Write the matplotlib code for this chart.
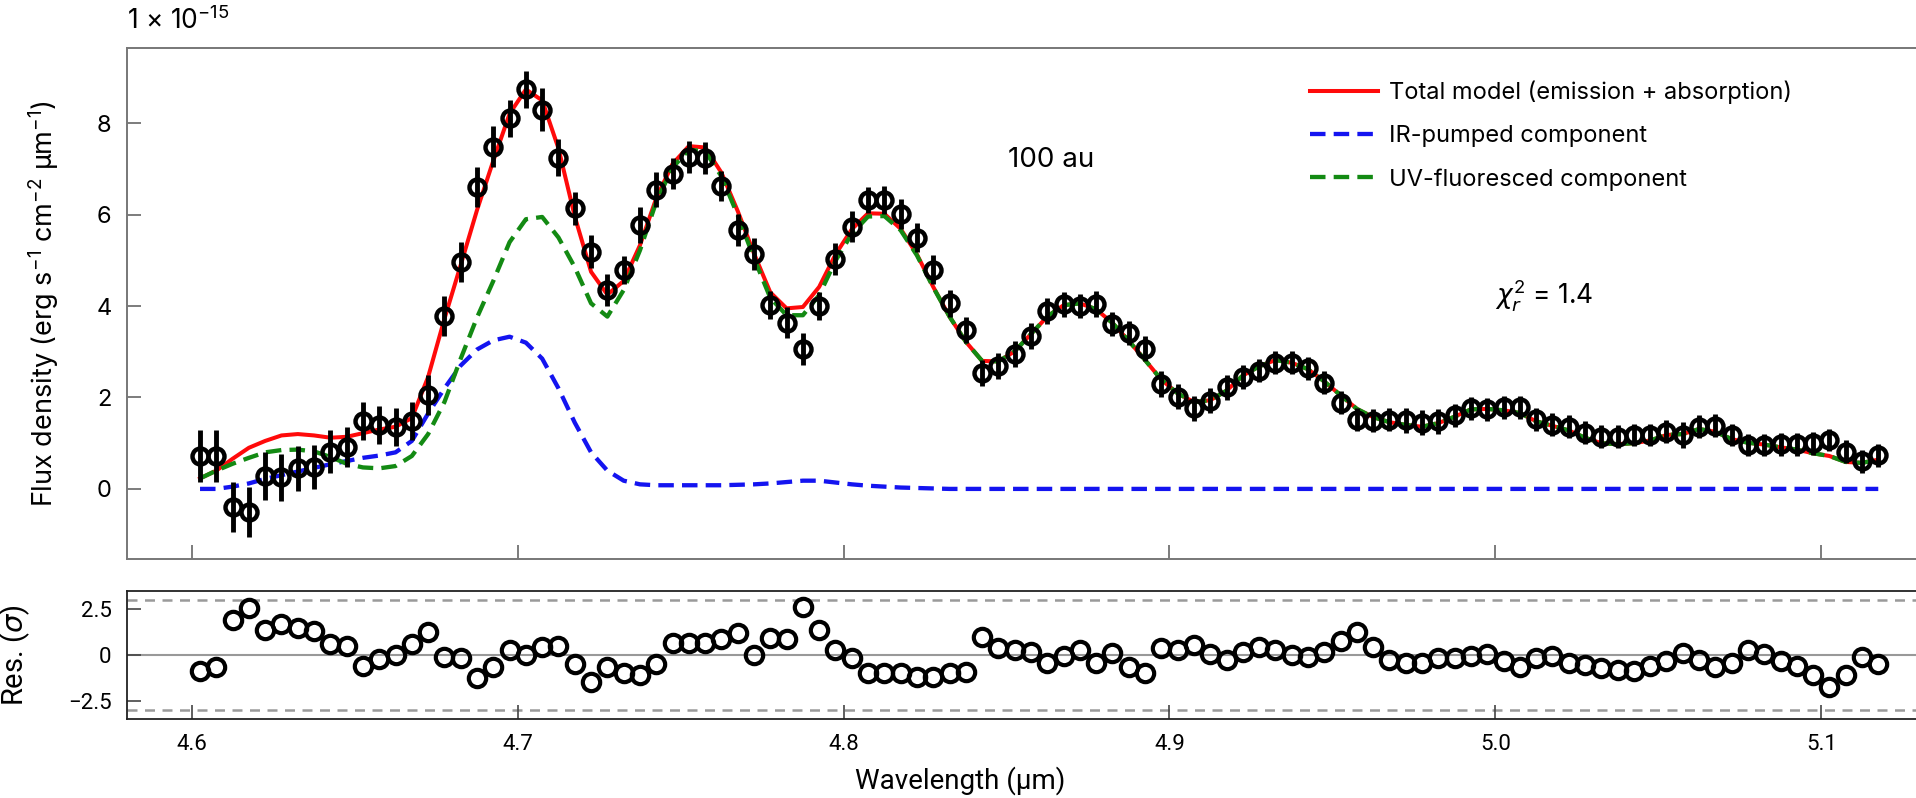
import matplotlib
matplotlib.use("Agg")
import matplotlib.pyplot as plt

plt.rcParams['font.family'] = ['Inter', 'DejaVu Sans']
plt.rcParams['mathtext.fontset'] = 'custom'
plt.rcParams['mathtext.rm'] = 'Inter'
plt.rcParams['mathtext.it'] = 'DejaVu Sans:italic'
plt.rcParams['axes.unicode_minus'] = True

NARROW = ['Liberation Sans Narrow', 'Roboto', 'DejaVu Sans']

# --- data ---
wavelength = [
    4.6025, 4.6075, 4.6125, 4.6175, 4.6225, 4.6275, 4.6325, 4.6375, 4.6425, 4.6475,
    4.6525, 4.6575, 4.6625, 4.6675, 4.6725, 4.6775, 4.6825, 4.6875, 4.6925, 4.6975,
    4.7025, 4.7075, 4.7125, 4.7175, 4.7225, 4.7275, 4.7325, 4.7375, 4.7425, 4.7475,
    4.7525, 4.7575, 4.7625, 4.7675, 4.7725, 4.7775, 4.7825, 4.7875, 4.7925, 4.7975,
    4.8025, 4.8075, 4.8125, 4.8175, 4.8225, 4.8275, 4.8325, 4.8375, 4.8425, 4.8475,
    4.8525, 4.8575, 4.8625, 4.8675, 4.8725, 4.8775, 4.8825, 4.8875, 4.8925, 4.8975,
    4.9025, 4.9075, 4.9125, 4.9175, 4.9225, 4.9275, 4.9325, 4.9375, 4.9425, 4.9475,
    4.9525, 4.9575, 4.9625, 4.9675, 4.9725, 4.9775, 4.9825, 4.9875, 4.9925, 4.9975,
    5.0025, 5.0075, 5.0125, 5.0175, 5.0225, 5.0275, 5.0325, 5.0375, 5.0425, 5.0475,
    5.0525, 5.0575, 5.0625, 5.0675, 5.0725, 5.0775, 5.0825, 5.0875, 5.0925, 5.0975,
    5.1025, 5.1075, 5.1125, 5.1175,
]

# observed flux density, units of 1e-15 erg s-1 cm-2 um-1
flux = [
    0.72, 0.72, -0.39, -0.50, 0.28, 0.25, 0.45, 0.48, 0.81, 0.92,
    1.49, 1.40, 1.36, 1.49, 2.05, 3.78, 4.97, 6.61, 7.49, 8.11,
    8.74, 8.30, 7.25, 6.14, 5.19, 4.35, 4.79, 5.77, 6.55, 6.90,
    7.27, 7.25, 6.63, 5.66, 5.15, 4.02, 3.64, 3.07, 4.00, 5.04,
    5.74, 6.32, 6.32, 6.01, 5.50, 4.80, 4.06, 3.48, 2.54, 2.69,
    2.95, 3.34, 3.89, 4.04, 4.00, 4.04, 3.61, 3.41, 3.07, 2.29,
    2.02, 1.76, 1.93, 2.22, 2.45, 2.59, 2.76, 2.76, 2.64, 2.32,
    1.89, 1.51, 1.49, 1.51, 1.50, 1.45, 1.48, 1.61, 1.76, 1.74,
    1.79, 1.79, 1.52, 1.40, 1.36, 1.23, 1.14, 1.14, 1.18, 1.18,
    1.25, 1.18, 1.36, 1.38, 1.18, 0.96, 0.96, 0.98, 0.98, 1.00,
    1.07, 0.81, 0.60, 0.74,
]

flux_err = [
    0.56, 0.56, 0.55, 0.55, 0.53, 0.52, 0.49, 0.49, 0.47, 0.44,
    0.42, 0.42, 0.42, 0.42, 0.44, 0.43, 0.44, 0.44, 0.45, 0.40,
    0.40, 0.47, 0.41, 0.36, 0.36, 0.35, 0.30, 0.40, 0.38, 0.33,
    0.35, 0.35, 0.33, 0.35, 0.35, 0.31, 0.33, 0.35, 0.31, 0.35,
    0.33, 0.29, 0.31, 0.33, 0.31, 0.31, 0.29, 0.29, 0.28, 0.28,
    0.28, 0.28, 0.28, 0.27, 0.27, 0.28, 0.27, 0.27, 0.27, 0.28,
    0.27, 0.27, 0.27, 0.27, 0.26, 0.25, 0.25, 0.25, 0.25, 0.25,
    0.25, 0.25, 0.25, 0.25, 0.27, 0.27, 0.27, 0.25, 0.25, 0.25,
    0.25, 0.25, 0.25, 0.25, 0.25, 0.25, 0.25, 0.25, 0.25, 0.25,
    0.25, 0.28, 0.25, 0.25, 0.25, 0.25, 0.25, 0.25, 0.25, 0.25,
    0.25, 0.25, 0.25, 0.25,
]

total_model = [
    0.23, 0.40, 0.66, 0.90, 1.05, 1.17, 1.20, 1.17, 1.12, 1.14,
    1.22, 1.30, 1.36, 1.55, 2.45, 3.72, 4.90, 6.10, 7.18, 8.21,
    8.74, 8.50, 7.45, 5.96, 4.75, 4.25, 4.55, 5.33, 6.36, 7.11,
    7.50, 7.47, 6.92, 6.08, 5.15, 4.30, 3.95, 3.98, 4.42, 5.13,
    5.68, 6.03, 6.02, 5.69, 5.13, 4.42, 3.77, 3.22, 2.80, 2.79,
    3.01, 3.39, 3.77, 4.02, 4.06, 3.93, 3.63, 3.24, 2.82, 2.39,
    2.09, 1.90, 1.94, 2.15, 2.48, 2.68, 2.82, 2.76, 2.62, 2.35,
    2.05, 1.75, 1.57, 1.46, 1.40, 1.36, 1.44, 1.58, 1.74, 1.75,
    1.72, 1.66, 1.48, 1.38, 1.28, 1.12, 1.00, 0.98, 1.00, 1.06,
    1.18, 1.20, 1.31, 1.25, 1.09, 1.01, 0.97, 0.91, 0.86, 0.78,
    0.72, 0.59, 0.57, 0.64,
]

ir_pumped = [
    0.00, 0.00, 0.05, 0.12, 0.22, 0.30, 0.38, 0.46, 0.54, 0.61,
    0.68, 0.73, 0.80, 1.05, 1.65, 2.20, 2.70, 3.05, 3.25, 3.33,
    3.20, 2.85, 2.20, 1.45, 0.80, 0.40, 0.18, 0.10, 0.08, 0.08,
    0.08, 0.08, 0.08, 0.09, 0.10, 0.12, 0.15, 0.18, 0.18, 0.14,
    0.10, 0.07, 0.05, 0.03, 0.02, 0.01, 0.00, 0.00, 0.00, 0.00,
    0.00, 0.00, 0.00, 0.00, 0.00, 0.00, 0.00, 0.00, 0.00, 0.00,
    0.00, 0.00, 0.00, 0.00, 0.00, 0.00, 0.00, 0.00, 0.00, 0.00,
    0.00, 0.00, 0.00, 0.00, 0.00, 0.00, 0.00, 0.00, 0.00, 0.00,
    0.00, 0.00, 0.00, 0.00, 0.00, 0.00, 0.00, 0.00, 0.00, 0.00,
    0.00, 0.00, 0.00, 0.00, 0.00, 0.00, 0.00, 0.00, 0.00, 0.00,
    0.00, 0.00, 0.00, 0.00,
]

uv_fluoresced = [
    0.23, 0.40, 0.55, 0.68, 0.80, 0.85, 0.86, 0.82, 0.70, 0.55,
    0.47, 0.45, 0.50, 0.72, 1.20, 1.90, 2.85, 3.75, 4.55, 5.40,
    5.90, 5.95, 5.50, 4.85, 4.06, 3.77, 4.35, 5.22, 6.28, 7.03,
    7.42, 7.39, 6.84, 5.99, 5.05, 4.18, 3.80, 3.80, 4.24, 4.99,
    5.58, 5.96, 5.97, 5.66, 5.11, 4.41, 3.77, 3.22, 2.80, 2.79,
    3.01, 3.39, 3.77, 4.02, 4.06, 3.93, 3.63, 3.24, 2.82, 2.39,
    2.09, 1.90, 1.94, 2.15, 2.48, 2.68, 2.82, 2.76, 2.62, 2.35,
    2.05, 1.75, 1.57, 1.46, 1.40, 1.36, 1.44, 1.58, 1.74, 1.75,
    1.72, 1.66, 1.48, 1.38, 1.28, 1.12, 1.00, 0.98, 1.00, 1.06,
    1.18, 1.20, 1.31, 1.25, 1.09, 1.01, 0.97, 0.91, 0.86, 0.78,
    0.72, 0.59, 0.57, 0.64,
]

# residuals in units of sigma
residual = [
    -0.88, -0.64, 1.91, 2.55, 1.37, 1.70, 1.46, 1.31, 0.58, 0.51,
    -0.60, -0.24, 0.00, 0.58, 1.22, -0.13, -0.16, -1.28, -0.69, 0.26,
    0.00, 0.42, 0.49, -0.51, -1.46, -0.66, -1.00, -1.09, -0.49, 0.64,
    0.67, 0.64, 0.88, 1.19, 0.00, 0.91, 0.88, 2.59, 1.37, 0.27,
    -0.18, -1.00, -0.97, -0.97, -1.19, -1.22, -1.00, -0.91, 0.97, 0.36,
    0.24, 0.18, -0.46, -0.09, 0.24, -0.42, 0.09, -0.67, -1.00, 0.36,
    0.27, 0.55, 0.05, -0.27, 0.13, 0.42, 0.27, 0.00, -0.11, 0.14,
    0.75, 1.22, 0.42, -0.27, -0.46, -0.42, -0.18, -0.15, -0.09, 0.04,
    -0.33, -0.64, -0.18, -0.09, -0.42, -0.55, -0.73, -0.82, -0.88, -0.60,
    -0.33, 0.09, -0.27, -0.64, -0.46, 0.27, 0.04, -0.36, -0.60, -1.09,
    -1.77, -1.09, -0.13, -0.51,
]

xticks = [4.6, 4.7, 4.8, 4.9, 5.0, 5.1]
flux_ticks = [0, 2, 4, 6, 8]
res_ticks = [-2.5, 0, 2.5]

# --- figure ---
W, H = 1916, 798
fig = plt.figure(figsize=(W / 100, H / 100), dpi=100)

left = 126.7 / W
width = (1919 - 126.7) / W
ax = fig.add_axes([left, 1 - 559.3 / H, width, (559.3 - 48.3) / H])
rax = fig.add_axes([left, 1 - 719 / H, width, (719 - 590.7) / H], sharex=ax)

red_line, = ax.plot(wavelength, total_model, color='#ff0a0a', lw=2.9, zorder=2,
                    label='Total model (emission + absorption)')
blue_line, = ax.plot(wavelength, ir_pumped, color='#1414f0', lw=3.1, ls=(0, (3.6, 1.9)),
                     zorder=3, label='IR-pumped component')
green_line, = ax.plot(wavelength, uv_fluoresced, color='#138a13', lw=3.1, ls=(0, (3.6, 1.9)),
                      zorder=4, label='UV-fluoresced component')
ax.errorbar(wavelength, flux, yerr=flux_err, fmt='o', ms=11.5, mfc='none', mec='black',
            mew=3.2, ecolor='black', elinewidth=3.5, capsize=0, zorder=5)

ax.set_xlim(4.58, 5.13)
ax.set_ylim(-1.54, 9.64)
ax.set_xticks(xticks)
ax.set_yticks(flux_ticks)
ax.tick_params(axis='both', direction='in', length=10, width=1.2, color='#666666',
               labelsize=17, pad=11)
ax.tick_params(axis='x', labelbottom=False)
for s in ax.spines.values():
    s.set_color('#777777')
    s.set_linewidth(1.4)

ax.set_ylabel(r'Flux density (erg s$^{-1}$ cm$^{-2}$ μm$^{-1}$)', fontsize=19.5)
ax.yaxis.set_label_coords(-0.0367, 0.5)

fig.text(127 / W, 1 - 21 / H, r'1 × 10$^{-15}$', fontsize=19, ha='left', va='center')

ax.text(4.8637, 7.2, '100 au', fontsize=20, ha='center', va='center')
ax.text(5.015, 4.24, r'$\chi^2_r$ = 1.4', fontsize=19, ha='center', va='center')

ax.legend(handles=[red_line, blue_line, green_line], loc='upper left',
          bbox_to_anchor=(0.660, 0.937), frameon=False, fontsize=17,
          handlelength=2.9, handletextpad=0.45, labelspacing=0.89,
          borderaxespad=0, borderpad=0)

# --- residual panel ---
rax.axhline(0, color='#999999', lw=1.5, zorder=1)
for lvl in (3, -3):
    rax.axhline(lvl, color='#9a9a9a', lw=1.8, ls=(0, (4, 3)), zorder=1)
rax.plot(wavelength, residual, 'o', ms=12.5, mfc='none', mec='black', mew=3.0, zorder=3)

rax.set_ylim(-3.5, 3.5)
rax.set_yticks(res_ticks)
rax.set_yticklabels(['−2.5', '0', '2.5'], family=NARROW)
rax.set_xticks(xticks)
rax.set_xticklabels(['4.6', '4.7', '4.8', '4.9', '5.0', '5.1'], family=NARROW)
rax.tick_params(axis='both', direction='in', length=10, width=1.2, color='#444444',
                labelsize=16, pad=11)
for s in rax.spines.values():
    s.set_color('#222222')
    s.set_linewidth(1.3)

rax.set_ylabel(r'Res. ($\sigma$)', fontsize=21, family=NARROW)
rax.yaxis.set_label_coords(-0.0528, 0.5)
rax.set_xlabel('Wavelength (μm)', fontsize=20, family=NARROW)
rax.xaxis.set_label_coords(0.465, -0.37)

fig.savefig('out.png', dpi=100)
